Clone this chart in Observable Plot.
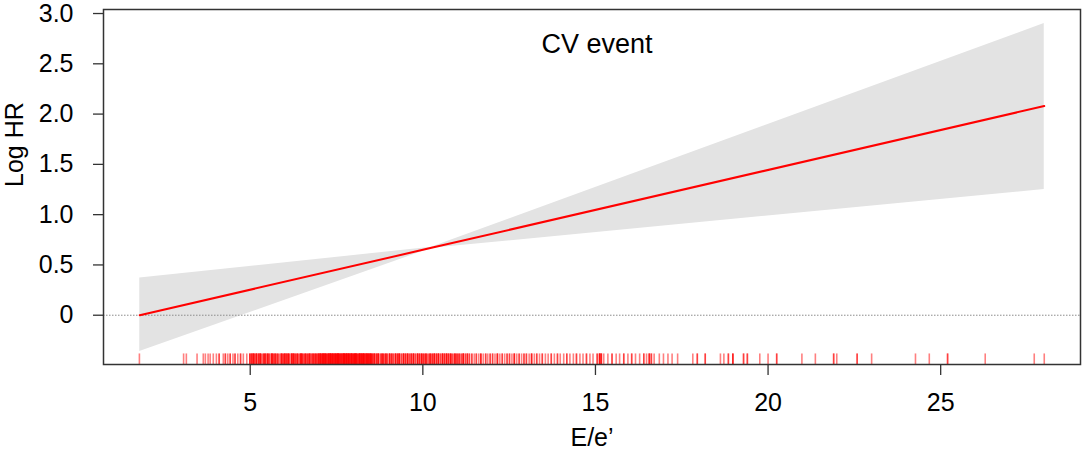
<!DOCTYPE html>
<html><head><meta charset="utf-8">
<script src="https://cdn.jsdelivr.net/npm/d3@7"></script>
<script src="https://cdn.jsdelivr.net/npm/@observablehq/plot@0.6"></script>
<style>html,body{margin:0;padding:0;background:#fff;}</style>
</head><body><div id="chart"></div>
<script>
const title = "CV event";
const xLabel = "E/e’";
const yLabel = "Log HR";

// fitted log hazard ratio and its confidence band
const fitX = [1.8, 10.25, 28.0];
const fitY = [0.0, 0.67, 2.08];
const ciLow = [-0.36, 0.665, 1.25];
const ciHigh = [0.37, 0.675, 2.90];

const xTicks = [5, 10, 15, 20, 25];
const yTicks = [0, 0.5, 1, 1.5, 2, 2.5, 3];
const yTickLabels = ["0", "0.5", "1.0", "1.5", "2.0", "2.5", "3.0"];

// rug of observed E/e' values (position, number of overlapping observations)
const rugX = [1.79,3.07,3.15,3.46,3.64,3.70,3.78,3.84,3.93,4.02,4.10,4.22,4.28,4.35,4.42,4.50,4.56,4.64,4.72,4.80,4.90,4.99,
5.04,5.09,5.13,5.18,5.24,5.29,5.34,5.40,5.45,5.51,5.56,5.62,5.66,5.72,5.78,5.83,5.90,5.95,6.00,6.05,6.10,6.14,6.20,6.25,6.30,6.36,6.41,6.46,6.50,6.56,6.61,6.67,6.72,6.77,6.82,6.88,6.93,6.98,
7.03,7.08,7.12,7.17,7.22,7.27,7.32,7.37,7.41,7.46,7.51,7.55,7.60,7.65,7.70,7.74,7.79,7.84,7.88,7.93,7.98,8.03,8.07,8.12,8.17,8.22,8.27,8.31,8.36,8.41,8.46,8.50,8.55,8.60,8.66,8.71,8.77,8.82,8.87,8.93,8.98,
9.04,9.10,9.15,9.21,9.27,9.32,9.38,9.44,9.50,9.56,9.62,9.67,9.73,9.79,9.85,9.91,9.97,10.03,10.09,10.15,10.21,10.27,10.33,10.39,10.45,10.51,10.57,10.63,10.69,10.75,10.81,10.87,10.93,10.99,11.05,11.11,11.17,11.23,11.29,11.35,
11.42,11.49,11.55,11.62,11.68,11.75,11.82,11.88,11.95,12.02,12.09,12.16,12.23,12.30,12.37,12.44,12.51,12.58,12.65,12.72,12.79,12.86,12.93,13.00,13.08,13.15,13.23,13.30,13.38,
13.46,13.55,13.63,13.72,13.81,13.90,13.98,14.08,14.17,14.26,14.36,14.45,14.55,14.64,14.74,14.84,14.93,15.05,15.12,15.17,15.24,
15.36,15.48,15.60,15.70,15.82,15.94,16.05,16.16,16.28,16.40,16.48,16.56,16.62,16.70,16.85,16.97,17.10,17.22,17.38,17.82,17.95,18.18,18.62,18.72,18.85,18.98,
19.29,19.40,19.76,20.00,20.25,20.98,21.37,21.90,21.99,22.58,23.00,24.27,24.67,25.20,26.29,27.71,28.00];
const rugN = [1,1,1,1,1,1,1,1,1,1,2,1,2,1,2,1,2,1,2,1,1,3,
3,4,2,4,3,4,2,4,3,4,2,4,3,4,3,2,4,3,4,3,4,2,4,4,3,4,2,4,4,3,4,3,4,2,4,4,3,4,
5,4,5,6,4,5,6,5,4,6,5,6,5,4,6,5,6,5,4,6,5,6,5,4,6,5,6,4,5,6,4,5,3,4,3,4,2,4,3,4,2,
4,3,2,4,3,4,2,4,3,4,2,3,4,2,4,3,4,3,4,2,4,3,4,3,4,2,4,3,4,3,4,2,4,3,3,2,4,2,3,2,
2,1,2,1,3,1,2,1,2,2,1,3,1,2,1,2,2,1,3,1,2,1,2,2,1,3,1,2,1,
2,1,1,2,1,2,1,1,2,1,1,2,1,1,2,1,1,2,4,3,1,
1,2,1,1,2,1,2,1,1,2,1,3,2,1,1,1,1,1,1,1,2,2,1,1,2,3,
2,2,1,1,2,1,1,2,1,2,1,1,1,2,1,1,1];

const fit = fitX.map((x, i) => ({x, y: fitY[i], lo: ciLow[i], hi: ciHigh[i]}));
const rug = rugX.flatMap((x, i) => Array.from({length: rugN[i]}, () => ({x})));

const font = "Arial, 'Liberation Sans', Helvetica, sans-serif";
const plot = Plot.plot({
  width: 1084, height: 451,
  marginLeft: 103, marginRight: 4, marginTop: 9, marginBottom: 87,
  style: {fontFamily: font, fontSize: "25px", color: "#000", background: "#fff", overflow: "visible"},
  x: {domain: [0.75, 29.05]},
  y: {domain: [-0.49, 3.04]},
  marks: [
    Plot.areaY(fit, {x: "x", y1: "lo", y2: "hi", fill: "#e3e3e3"}),
    Plot.ruleY([0], {stroke: "#8c8c8c", strokeDasharray: "1.5,1.5", strokeWidth: 1}),
    Plot.line(fit, {x: "x", y: "y", stroke: "#ff0000", strokeWidth: 2}),
    Plot.ruleX(rug, {x: "x", y1: -0.49, y2: -0.385, stroke: "#ff0000", strokeOpacity: 0.5, strokeWidth: 1.6}),
    Plot.text([title], {frameAnchor: "top", lineAnchor: "top", dx: 5, dy: 24, fontSize: 27, fill: "#000"}),
    Plot.axisX(xTicks, {tickSize: 11, tickPadding: 18, stroke: "#333", strokeWidth: 1.3, fontSize: 25, fill: "#000", label: null}),
    Plot.axisY(yTicks, {tickSize: 10, tickPadding: 20, stroke: "#333", strokeWidth: 1.3, fontSize: 25, fill: "#000", label: null,
      tickFormat: d => yTickLabels[yTicks.indexOf(d)]}),
    Plot.text([xLabel], {frameAnchor: "bottom", lineAnchor: "middle", dy: 73, fontSize: 25, fill: "#000"}),
    Plot.text([yLabel], {frameAnchor: "left", lineAnchor: "middle", dx: -89, rotate: -90, fontSize: 25, fill: "#000"}),
    Plot.frame({stroke: "#333", strokeWidth: 1.5})
  ]
});
document.getElementById("chart").appendChild(plot);
</script>
</body></html>
